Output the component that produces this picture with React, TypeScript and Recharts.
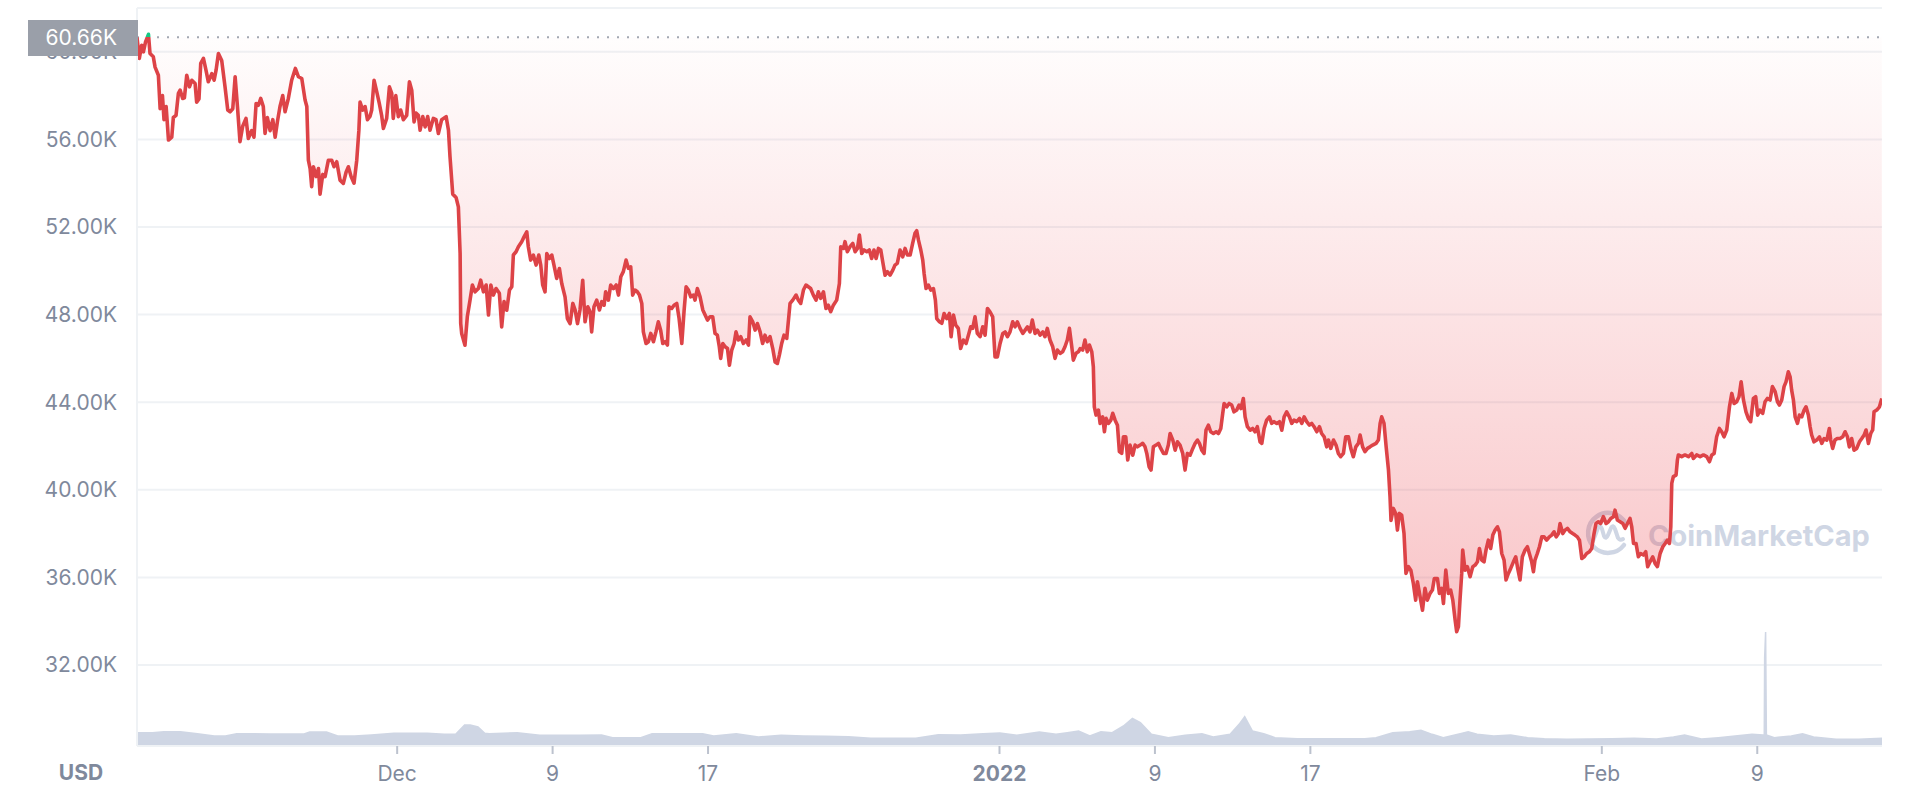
import {
  ComposedChart,
  Area,
  Line,
  XAxis,
  YAxis,
  CartesianGrid,
  ReferenceLine,
  Customized,
} from 'recharts';

// x values are days counted from Dec 1 2021, prices in thousands of USD
const dayTicks = [0, 8, 16, 31, 39, 47, 62, 70];
const dayTickLabels = ['Dec', '9', '17', '2022', '9', '17', 'Feb', '9'];
const priceTicks = [32, 36, 40, 44, 48, 52, 56, 60];
const openPrice = 60.66;

const priceNov: [number, number][] = [
  [-13.39, 60.66], [-13.27, 59.7], [-13.15, 60.3], [-13.06, 60.0], [-12.95, 60.45], [-12.8, 60.8],
  [-12.72, 59.92], [-12.55, 59.77], [-12.46, 59.3], [-12.29, 58.93], [-12.2, 57.4], [-12.08, 58.0],
  [-12.0, 56.9], [-11.89, 57.5], [-11.77, 55.97], [-11.6, 56.1], [-11.52, 57.0], [-11.38, 57.1],
  [-11.26, 58.1], [-11.17, 58.25], [-11.04, 57.87], [-10.95, 57.9], [-10.83, 58.93], [-10.69, 58.4],
  [-10.57, 58.7], [-10.4, 58.55], [-10.32, 57.7], [-10.2, 57.85], [-10.11, 59.47], [-9.97, 59.7],
  [-9.84, 59.16], [-9.72, 58.63], [-9.54, 59.0], [-9.42, 58.7], [-9.32, 59.16], [-9.2, 59.92],
  [-9.03, 59.6], [-8.86, 58.4], [-8.72, 57.34], [-8.6, 57.26], [-8.46, 57.4], [-8.34, 58.86],
  [-8.22, 57.5], [-8.09, 55.9], [-7.95, 56.6], [-7.78, 56.96], [-7.66, 56.04], [-7.49, 56.4],
  [-7.37, 56.1], [-7.26, 57.64], [-7.14, 57.56], [-7.02, 57.87], [-6.89, 57.5], [-6.8, 56.27],
  [-6.68, 57.0], [-6.54, 56.4], [-6.4, 56.9], [-6.28, 56.1], [-6.16, 56.83], [-6.03, 57.5],
  [-5.89, 58.0], [-5.77, 57.26], [-5.6, 57.87], [-5.43, 58.7], [-5.24, 59.24], [-5.08, 58.86],
  [-4.91, 58.78], [-4.74, 57.8], [-4.65, 57.5], [-4.57, 55.05], [-4.48, 54.67], [-4.4, 53.84],
  [-4.31, 54.75], [-4.17, 54.3], [-4.05, 54.67], [-3.97, 53.5], [-3.83, 54.4], [-3.71, 54.3],
  [-3.54, 55.05], [-3.37, 55.05], [-3.25, 54.75], [-3.11, 54.98], [-2.94, 54.14], [-2.77, 53.99],
  [-2.63, 54.5], [-2.51, 54.75], [-2.37, 54.3], [-2.22, 54.0], [-2.08, 55.05], [-1.97, 56.42],
  [-1.91, 57.7], [-1.77, 57.34], [-1.65, 57.5], [-1.53, 56.9], [-1.4, 57.05], [-1.31, 57.34],
  [-1.19, 58.7], [-1.05, 58.17], [-0.92, 57.64], [-0.8, 57.1], [-0.71, 56.5], [-0.54, 56.96],
  [-0.4, 58.4], [-0.28, 58.1], [-0.2, 56.96], [-0.07, 58.0],
];

const priceDec: [number, number][] = [
  [0.06, 57.04], [0.18, 57.34], [0.32, 56.9], [0.49, 57.1], [0.63, 58.63], [0.75, 58.25],
  [0.87, 56.8], [0.97, 57.2], [1.09, 57.1], [1.18, 56.42], [1.32, 57.04], [1.44, 56.57],
  [1.57, 57.04], [1.69, 56.42], [1.86, 56.96], [2.0, 56.9], [2.12, 56.27], [2.29, 56.9],
  [2.52, 57.04], [2.64, 56.42], [2.72, 55.2], [2.86, 53.5], [3.03, 53.35], [3.15, 52.92],
  [3.24, 50.8], [3.27, 47.6], [3.32, 47.14], [3.49, 46.6], [3.61, 47.9], [3.75, 48.66],
  [3.87, 49.35], [4.01, 49.04], [4.18, 49.19], [4.3, 49.57], [4.44, 49.04], [4.58, 49.35],
  [4.7, 47.98], [4.82, 49.35], [4.95, 48.89], [5.09, 49.19], [5.26, 48.97], [5.38, 47.44],
  [5.5, 48.59], [5.64, 48.2], [5.78, 49.12], [5.9, 49.27], [5.98, 50.72], [6.12, 50.87],
  [6.24, 51.1], [6.41, 51.33], [6.53, 51.55], [6.67, 51.78], [6.75, 51.1], [6.87, 50.49],
  [7.01, 50.72], [7.15, 50.26], [7.29, 50.72], [7.39, 50.26], [7.49, 49.35], [7.61, 49.04],
  [7.7, 50.79], [7.84, 50.56], [7.96, 50.72], [8.07, 50.26], [8.21, 49.65], [8.35, 50.1],
  [8.47, 49.42], [8.64, 48.81], [8.76, 47.82], [8.9, 47.59], [9.04, 48.51], [9.16, 48.21],
  [9.28, 47.59], [9.41, 48.21], [9.55, 49.57], [9.67, 47.67], [9.81, 48.36], [9.93, 48.13],
  [10.01, 47.21], [10.13, 48.36], [10.27, 48.66], [10.41, 48.21], [10.53, 48.59], [10.65, 48.43],
  [10.73, 49.04], [10.87, 48.66], [10.99, 49.35], [11.13, 49.19], [11.27, 49.35], [11.39, 48.89],
  [11.51, 49.73], [11.64, 49.96], [11.78, 50.49], [11.9, 50.11], [12.02, 50.18], [12.12, 48.89],
  [12.24, 49.12], [12.36, 49.04], [12.47, 48.89], [12.59, 48.51], [12.67, 47.21], [12.81, 46.68],
  [12.93, 46.76], [13.05, 47.14], [13.19, 46.76], [13.32, 47.21], [13.44, 47.67], [13.56, 47.29],
  [13.67, 46.68], [13.79, 46.76], [13.91, 46.61], [13.99, 48.36], [14.13, 48.28], [14.25, 48.43],
  [14.39, 48.51], [14.51, 47.82], [14.65, 46.68], [14.77, 48.21], [14.87, 49.27], [14.99, 49.12],
  [15.11, 48.81], [15.25, 48.89], [15.33, 48.66], [15.45, 49.19], [15.59, 48.81], [15.73, 48.21],
  [15.85, 47.98], [15.97, 47.75], [16.1, 47.9], [16.24, 47.9], [16.36, 47.14], [16.48, 47.06],
  [16.58, 46.53], [16.65, 46.0], [16.76, 46.68], [16.88, 46.53], [17.0, 46.45], [17.1, 45.69],
  [17.22, 46.38], [17.34, 46.68], [17.44, 47.21], [17.56, 46.84], [17.68, 46.99], [17.82, 46.68],
  [17.96, 46.84], [18.08, 46.61], [18.16, 47.9], [18.3, 47.67], [18.42, 47.29], [18.54, 47.59],
  [18.68, 47.21], [18.81, 46.68], [18.93, 47.06], [19.05, 46.76], [19.19, 46.99], [19.33, 46.45],
  [19.45, 45.84], [19.57, 45.77], [19.67, 46.15], [19.79, 46.68], [19.91, 47.06], [20.05, 46.91],
  [20.22, 48.51], [20.36, 48.66], [20.53, 48.89], [20.65, 48.66], [20.77, 48.51], [20.91, 49.12],
  [21.04, 49.35], [21.16, 49.27], [21.28, 49.19], [21.42, 48.89], [21.56, 48.66], [21.68, 49.04],
  [21.8, 48.74], [21.94, 49.04], [22.07, 48.28], [22.19, 48.43], [22.31, 48.13], [22.45, 48.43],
  [22.62, 48.66], [22.76, 49.42], [22.83, 51.1], [22.97, 51.02], [23.05, 51.33], [23.17, 50.87],
  [23.31, 51.1], [23.45, 51.25], [23.57, 50.87], [23.69, 51.02], [23.79, 51.63], [23.91, 50.79],
  [24.03, 50.95], [24.17, 50.87], [24.3, 50.95], [24.42, 50.56], [24.54, 50.95], [24.65, 50.56],
  [24.77, 51.02], [24.89, 50.95], [24.99, 50.41], [25.11, 49.8], [25.23, 49.96], [25.37, 49.8],
  [25.51, 50.03], [25.62, 50.26], [25.74, 50.34], [25.88, 50.95], [26.02, 50.64], [26.14, 51.02],
  [26.26, 50.72], [26.4, 50.72], [26.53, 51.25], [26.65, 51.71], [26.74, 51.83], [26.83, 51.4],
  [26.95, 50.95], [27.05, 50.49], [27.12, 49.88], [27.22, 49.19], [27.34, 49.35], [27.46, 49.12],
  [27.6, 49.19], [27.7, 48.66], [27.77, 47.82], [27.91, 47.67], [28.03, 47.6], [28.15, 48.05],
  [28.28, 47.82], [28.42, 48.05], [28.51, 46.99], [28.63, 47.98], [28.75, 47.52], [28.88, 47.37],
  [29.0, 46.45], [29.14, 46.84], [29.28, 46.68], [29.4, 47.06], [29.52, 47.44], [29.62, 47.37],
  [29.74, 47.9], [29.86, 47.14], [30.0, 46.99], [30.14, 47.44], [30.26, 47.06], [30.38, 48.28],
  [30.51, 48.13], [30.65, 47.9], [30.77, 46.07], [30.89, 46.07],
];

const priceJan: [number, number][] = [
  [31.03, 46.68], [31.17, 47.14], [31.29, 47.21], [31.41, 46.99], [31.54, 47.21], [31.68, 47.67],
  [31.8, 47.44], [31.92, 47.67], [32.06, 47.37], [32.2, 47.14], [32.32, 47.29], [32.44, 47.44],
  [32.57, 47.21], [32.69, 47.75], [32.83, 47.14], [32.95, 47.29], [33.09, 47.06], [33.23, 47.21],
  [33.34, 46.99], [33.46, 47.37], [33.6, 46.84], [33.74, 46.53], [33.86, 46.0], [33.98, 46.38],
  [34.12, 46.23], [34.25, 46.3], [34.37, 46.53], [34.49, 46.84], [34.6, 47.37], [34.72, 46.53],
  [34.8, 45.92], [34.94, 46.23], [35.06, 46.3], [35.15, 46.45], [35.28, 46.38], [35.4, 46.84],
  [35.52, 46.3], [35.63, 46.61], [35.75, 46.3], [35.83, 45.62], [35.88, 43.79], [35.97, 43.41],
  [36.09, 43.64], [36.18, 43.03], [36.31, 43.33], [36.4, 42.65], [36.49, 43.26], [36.61, 43.03],
  [36.73, 43.18], [36.83, 43.49], [36.95, 43.18], [37.07, 42.95], [37.17, 41.74], [37.29, 41.66],
  [37.38, 42.42], [37.5, 42.42], [37.6, 41.36], [37.72, 42.04], [37.86, 41.58], [37.98, 42.04],
  [38.1, 41.96], [38.24, 42.04], [38.37, 42.12], [38.49, 41.96], [38.58, 41.66], [38.7, 41.05],
  [38.8, 40.9], [38.92, 41.96], [39.06, 42.04], [39.18, 42.12], [39.3, 41.89], [39.44, 41.66],
  [39.57, 41.66], [39.69, 42.04], [39.78, 42.57], [39.92, 42.27], [40.04, 41.81], [40.16, 42.19],
  [40.29, 42.04], [40.43, 41.66], [40.55, 40.9], [40.67, 41.66], [40.81, 41.58], [40.95, 41.89],
  [41.07, 42.12], [41.19, 42.27], [41.29, 42.12], [41.41, 41.81], [41.53, 41.66], [41.63, 42.73],
  [41.75, 42.95], [41.87, 42.65], [42.01, 42.57], [42.15, 42.65], [42.27, 42.57], [42.39, 42.8],
  [42.49, 43.49], [42.56, 43.94], [42.7, 43.79], [42.82, 43.94], [42.95, 43.87], [43.07, 43.56],
  [43.21, 43.64], [43.33, 43.87], [43.43, 43.71], [43.55, 44.17], [43.64, 43.33], [43.76, 42.88],
  [43.9, 42.72], [44.03, 42.8], [44.15, 42.65], [44.27, 42.88], [44.41, 42.19], [44.5, 42.12],
  [44.62, 42.8], [44.75, 43.18], [44.89, 43.33], [45.01, 43.03], [45.13, 43.11], [45.27, 43.03],
  [45.41, 43.11], [45.53, 42.72], [45.65, 43.33], [45.78, 43.56], [45.92, 43.33], [46.04, 43.03],
  [46.16, 43.18], [46.3, 43.11], [46.44, 43.26], [46.56, 43.03], [46.68, 43.33], [46.81, 43.11],
  [46.95, 42.95], [47.07, 43.03], [47.19, 42.88], [47.33, 42.65], [47.47, 42.88], [47.58, 42.57],
  [47.71, 42.42], [47.84, 41.96], [47.93, 42.27], [48.05, 41.89], [48.19, 42.27], [48.32, 42.04],
  [48.44, 41.66], [48.56, 41.51], [48.7, 41.66], [48.82, 42.42], [48.96, 42.42], [49.08, 41.89],
  [49.21, 41.51], [49.34, 41.96], [49.47, 42.12], [49.56, 42.5], [49.69, 41.96], [49.81, 41.74],
  [49.94, 41.89], [50.07, 41.96], [50.21, 42.04], [50.38, 42.12], [50.5, 42.27], [50.59, 43.03],
  [50.67, 43.33], [50.79, 43.03], [50.9, 41.96], [51.02, 40.9], [51.1, 39.68], [51.15, 38.6],
  [51.27, 39.15], [51.39, 38.92], [51.48, 38.16], [51.58, 38.92], [51.7, 38.84], [51.82, 38.0],
  [51.92, 36.18], [52.05, 36.49], [52.17, 36.33], [52.3, 35.72], [52.42, 34.96], [52.51, 35.8],
  [52.65, 35.1], [52.77, 34.5], [52.9, 35.5], [53.02, 34.96], [53.16, 35.27], [53.28, 35.42],
  [53.38, 35.95], [53.54, 35.95], [53.64, 35.27], [53.76, 35.5], [53.85, 34.81], [53.97, 36.33],
  [54.1, 35.27], [54.22, 35.42], [54.33, 34.96], [54.45, 34.05], [54.53, 33.52], [54.62, 33.75],
  [54.7, 34.96], [54.79, 36.18], [54.84, 37.25], [54.96, 36.33], [55.08, 36.49], [55.22, 36.03],
  [55.36, 36.49], [55.48, 36.56], [55.6, 36.71], [55.7, 37.32], [55.82, 36.79], [55.94, 36.71],
  [56.04, 37.25], [56.16, 37.7], [56.28, 37.32], [56.39, 37.93], [56.51, 38.16], [56.63, 38.31],
  [56.73, 38.08], [56.85, 37.09], [56.97, 36.79], [57.07, 35.88], [57.19, 36.18], [57.31, 36.41],
  [57.45, 36.71], [57.57, 36.94], [57.67, 36.41], [57.79, 35.88], [57.91, 36.94], [58.05, 37.25],
  [58.17, 37.4], [58.27, 37.09], [58.39, 36.71], [58.48, 36.26], [58.56, 36.79], [58.68, 37.09],
  [58.79, 37.4], [58.91, 37.85], [59.03, 37.85], [59.16, 37.7], [59.3, 37.85], [59.42, 37.93],
  [59.54, 38.08], [59.65, 37.85], [59.77, 38.0], [59.85, 38.46], [59.99, 38.0], [60.11, 38.16],
  [60.23, 38.24], [60.37, 38.08], [60.5, 38.0], [60.62, 37.93], [60.74, 37.85], [60.85, 37.7],
  [60.97, 36.86], [61.09, 36.94], [61.22, 37.09], [61.36, 37.17], [61.48, 37.32], [61.6, 38.0],
  [61.7, 38.46], [61.82, 38.54], [61.94, 38.46],
];

const priceFeb: [number, number][] = [
  [62.08, 38.77], [62.22, 38.46], [62.34, 38.54], [62.46, 38.69], [62.6, 38.77], [62.68, 39.07],
  [62.8, 38.62], [62.94, 38.54], [63.08, 38.46], [63.2, 38.24], [63.32, 38.46], [63.45, 38.69],
  [63.54, 38.31], [63.63, 37.55], [63.76, 37.55], [63.88, 36.94], [64.0, 37.09], [64.14, 37.02],
  [64.26, 37.17], [64.36, 36.49], [64.48, 36.71], [64.62, 36.94], [64.74, 36.64], [64.86, 36.49],
  [65.0, 37.09], [65.14, 37.4], [65.26, 37.55], [65.37, 37.7], [65.48, 37.55], [65.55, 38.31],
  [65.6, 40.29], [65.68, 40.6], [65.82, 40.67], [65.89, 41.36], [65.94, 41.59], [66.11, 41.51],
  [66.28, 41.59], [66.46, 41.51], [66.63, 41.66], [66.71, 41.43], [66.88, 41.59], [67.06, 41.51],
  [67.23, 41.59], [67.4, 41.51], [67.54, 41.28], [67.66, 41.59], [67.78, 41.66], [67.91, 42.42],
  [68.05, 42.8], [68.17, 42.65], [68.29, 42.42], [68.43, 42.73], [68.57, 43.79], [68.69, 44.4],
  [68.81, 43.94], [68.94, 44.02], [69.06, 44.25], [69.17, 44.93], [69.29, 44.1], [69.42, 43.56],
  [69.54, 43.26], [69.66, 43.11], [69.8, 44.17], [69.92, 44.25], [70.02, 43.41], [70.14, 43.64],
  [70.28, 43.49], [70.4, 44.02], [70.52, 44.17], [70.66, 44.1], [70.78, 44.71], [70.92, 44.48],
  [71.04, 44.02], [71.14, 43.87], [71.26, 44.1], [71.38, 44.71], [71.48, 44.93], [71.6, 45.39],
  [71.69, 45.16], [71.77, 44.55], [71.86, 44.1], [71.95, 43.33], [72.07, 43.03], [72.17, 43.41],
  [72.29, 43.33], [72.41, 43.64], [72.51, 43.79], [72.63, 43.41], [72.72, 42.88], [72.8, 42.5],
  [72.92, 42.19], [73.06, 42.27], [73.2, 42.42], [73.32, 42.12], [73.44, 42.34], [73.58, 42.27],
  [73.71, 42.8], [73.78, 42.27], [73.88, 41.89], [74.0, 42.27], [74.12, 42.34], [74.26, 42.34],
  [74.4, 42.42], [74.52, 42.65], [74.64, 42.42], [74.74, 41.96], [74.86, 42.34], [74.98, 41.81],
  [75.12, 41.89], [75.26, 42.19], [75.38, 42.34], [75.5, 42.5], [75.6, 42.73], [75.72, 42.12],
  [75.84, 42.57], [75.94, 42.73], [76.01, 43.56], [76.15, 43.64], [76.29, 43.79], [76.41, 44.17],
];

// 24h volume, billions USD
const volume: [number, number][] = [
  [-13.39, 40], [-12.59, 40], [-12.01, 43], [-11.15, 43], [-10.28, 37], [-9.41, 30], [-8.84, 30],
  [-8.26, 37], [-7.39, 37], [-6.53, 36], [-4.79, 36], [-4.5, 42], [-3.64, 42], [-3.06, 30],
  [-2.19, 30], [-1.33, 33], [-0.17, 38], [1.56, 38], [2.43, 35], [3.01, 35], [3.47, 63], [3.76, 63],
  [4.16, 57], [4.51, 38], [4.74, 37], [6.18, 40], [7.34, 32], [9.36, 32], [10.52, 33], [11.09, 25],
  [12.54, 25], [13.12, 37], [14.27, 37], [15.72, 37], [16.29, 30], [17.45, 37], [18.6, 27],
  [19.76, 32], [20.92, 30], [22.07, 29], [23.23, 28], [24.38, 23], [26.69, 23], [27.85, 34],
  [29.0, 33], [30.16, 37], [31.02, 39], [31.89, 32], [33.05, 42], [33.91, 35], [34.49, 40],
  [35.07, 45], [35.65, 30], [36.22, 43], [36.8, 40], [37.38, 60], [37.84, 83], [38.25, 70],
  [38.82, 35], [39.69, 25], [40.56, 32], [41.42, 37], [42.0, 27], [42.87, 35], [43.33, 65],
  [43.62, 88], [44.02, 45], [44.6, 37], [45.18, 25], [46.33, 22], [49.8, 22], [50.38, 25],
  [51.24, 40], [52.11, 43], [52.69, 47], [53.27, 35], [53.84, 25], [54.71, 37], [55.12, 43],
  [55.58, 35], [56.44, 30], [57.31, 33], [58.18, 25], [59.04, 22], [60.2, 20], [61.35, 21],
  [62.51, 22], [63.66, 23], [64.82, 21], [65.69, 27], [66.26, 33], [67.13, 21], [68.0, 25],
  [68.86, 30], [69.73, 35], [70.31, 33], [70.36, 33], [70.38, 264], [70.43, 342], [70.47, 33],
  [70.88, 25], [71.75, 30], [72.33, 37], [72.9, 27], [74.06, 20], [75.22, 20], [76.42, 23],
];

const priceData = [...priceNov, ...priceDec, ...priceJan, ...priceFeb].map(([t, p]) => ({ t, p }));
const volumeData = volume.map(([t, v]) => ({ t, v }));

const FONT = 'Inter, "Noto Sans", sans-serif';
const GREY = '#7f899c';
const RED = '#dd4347';
const GREEN = '#16c784';
const Y_DOMAIN: [number, number] = [28.3, 62];
const TOP = 8;
const PLOT_H = 738;
// where the opening price sits, used to switch the line colour
const openY = TOP + ((Y_DOMAIN[1] - openPrice) / (Y_DOMAIN[1] - Y_DOMAIN[0])) * PLOT_H;

function DayTick({ x, y, payload }: any) {
  const label = dayTickLabels[dayTicks.indexOf(payload.value)] ?? '';
  return (
    <text x={x} y={y} dy="0.71em" textAnchor="middle" fill={GREY} fontSize={21}
      fontFamily={FONT} fontWeight={label === '2022' ? 700 : 400}>
      {label}
    </text>
  );
}

function Watermark() {
  const c = '#cfd6e4';
  return (
    <g>
      <path d="M1624 545 A20 20 0 1 1 1626 524" fill="none" stroke={c} strokeWidth={4.5} strokeLinecap="round" />
      <path d="M1593 541 L1598 528 Q1600 524 1602 529 L1604 536 Q1606 540 1608 535 L1611 528 Q1613 524 1615 529 L1618 538 Q1620 541 1623 539"
        fill="none" stroke={c} strokeWidth={4} strokeLinejoin="round" strokeLinecap="round" />
      <text x={1648} y={546} fill={c} fontSize={29} fontWeight={700} fontFamily={FONT}>CoinMarketCap</text>
    </g>
  );
}

export default function App() {
  return (
    <div style={{ position: 'absolute', left: 0, top: 0, width: 1918, height: 792, background: '#fff', fontFamily: FONT }}>
      <ComposedChart width={1918} height={792} margin={{ top: TOP, right: 36, bottom: 0, left: 0 }}>
        <defs>
          <linearGradient id="redFill" gradientUnits="userSpaceOnUse" x1="0" y1={openY} x2="0" y2="640">
            <stop offset="0" stopColor="#ea3943" stopOpacity={0.01} />
            <stop offset="1" stopColor="#ea3943" stopOpacity={0.3} />
          </linearGradient>
          <linearGradient id="lineColor" gradientUnits="userSpaceOnUse" x1="0" y1="0" x2="0" y2="792">
            <stop offset={openY / 792} stopColor={GREEN} />
            <stop offset={openY / 792} stopColor={RED} />
          </linearGradient>
        </defs>
        <CartesianGrid yAxisId="price" vertical={false} stroke="#eff2f5" strokeWidth={2} />
        <XAxis
          dataKey="t"
          type="number"
          domain={[-13.39, 76.42]}
          allowDataOverflow
          ticks={dayTicks}
          height={46}
          tick={<DayTick />}
          tickSize={8}
          tickMargin={12}
          axisLine={{ stroke: '#eff2f5', strokeWidth: 2 }}
          tickLine={{ stroke: '#bcc2ce', strokeWidth: 2 }}
        />
        <YAxis
          yAxisId="price"
          type="number"
          domain={Y_DOMAIN}
          allowDataOverflow
          ticks={priceTicks}
          width={137}
          tickSize={0}
          tickMargin={20}
          tickFormatter={(v: number) => `${v.toFixed(2)}K`}
          tick={{ fill: GREY, fontSize: 21, fontFamily: FONT }}
          axisLine={{ stroke: '#eff2f5', strokeWidth: 2 }}
        />
        <YAxis yAxisId="vol" hide domain={[0, 2214]} allowDataOverflow />
        <Area
          yAxisId="vol"
          data={volumeData}
          dataKey="v"
          type="linear"
          stroke="#cfd6e4"
          strokeWidth={1.5}
          fill="#cfd6e4"
          fillOpacity={1}
          isAnimationActive={false}
        />
        <Area
          yAxisId="price"
          data={priceData}
          dataKey="p"
          type="linear"
          baseValue={openPrice}
          stroke="none"
          fill="url(#redFill)"
          fillOpacity={1}
          isAnimationActive={false}
        />
        <ReferenceLine yAxisId="price" y={openPrice} stroke="#a3a8b2" strokeWidth={2} strokeDasharray="2 8" />
        <Customized component={Watermark} />
        <Line
          yAxisId="price"
          data={priceData}
          dataKey="p"
          type="linear"
          stroke="url(#lineColor)"
          strokeWidth={3.6}
          strokeLinejoin="round"
          dot={false}
          isAnimationActive={false}
        />
      </ComposedChart>
      <div style={{
        position: 'absolute', left: 28, top: 20, width: 110, height: 36, background: '#9a9fa9',
        color: '#fff', fontSize: 21, lineHeight: '36px', textAlign: 'right', paddingRight: 21, boxSizing: 'border-box',
      }}>
        {`${openPrice.toFixed(2)}K`}
      </div>
      <div style={{
        position: 'absolute', left: 31, top: 761, width: 100, textAlign: 'center', fontSize: 21,
        lineHeight: '24px', fontWeight: 700, color: GREY,
      }}>
        USD
      </div>
    </div>
  );
}
